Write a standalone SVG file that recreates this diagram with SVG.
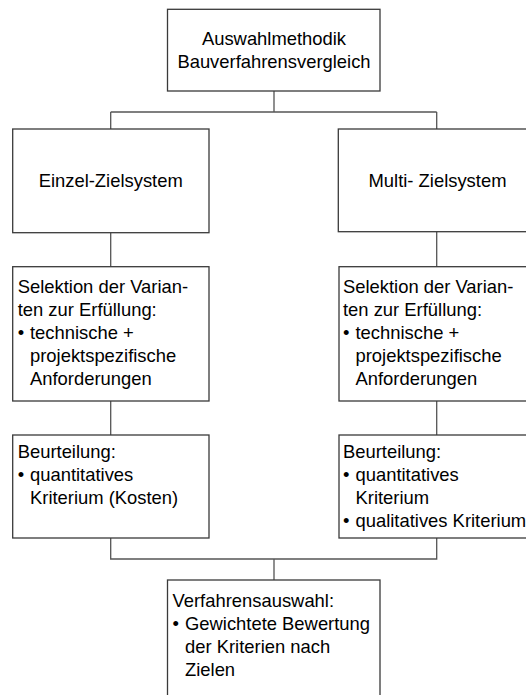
<svg xmlns="http://www.w3.org/2000/svg" width="526" height="695" viewBox="0 0 526 695">
  <style>
    .box { fill: #ffffff; stroke: #3a3a3a; stroke-width: 1.3; }
    .conn { fill: none; stroke: #555555; stroke-width: 1.3; }
    text { font-family: "Liberation Sans", Arial, sans-serif; font-size: 18.4px; fill: #000000; }
    .c { text-anchor: middle; }
  </style>
  <rect width="526" height="695" fill="#ffffff"/>

  <!-- connectors -->
  <g id="connectors">
    <path class="conn" d="M274 91 V112 M110.7 112 H436.7 M110.7 112 V129 M436.7 112 V129"/>
    <path class="conn" d="M110.7 232.7 V266.7 M436.7 231.7 V266.7"/>
    <path class="conn" d="M110.7 401 V435 M436.7 401 V435"/>
    <path class="conn" d="M110.7 538 V559 H436.7 V538 M274 559 V580"/>
  </g>

  <!-- top node -->
  <g id="auswahlmethodik">
    <rect class="box" x="167.5" y="9.3" width="212.5" height="81.7"/>
    <text class="c" x="274" y="44.5">Auswahlmethodik</text>
    <text class="c" x="274" y="67.5">Bauverfahrensvergleich</text>
  </g>

  <!-- left branch -->
  <g id="einzel-zielsystem">
    <rect class="box" x="12.7" y="129" width="196.3" height="103.7"/>
    <text class="c" x="110.7" y="186.7">Einzel-Zielsystem</text>
  </g>
  <g id="selektion-links">
    <rect class="box" x="12.7" y="266.7" width="196.3" height="134.3"/>
    <text x="17.7" y="293">Selektion der Varian-</text>
    <text x="17.7" y="316">ten zur Erfüllung:</text>
    <text x="17.7" y="339">•</text>
    <text x="30" y="339">technische +</text>
    <text x="30" y="362">projektspezifische</text>
    <text x="30" y="385">Anforderungen</text>
  </g>
  <g id="beurteilung-links">
    <rect class="box" x="12.7" y="435" width="196.3" height="103"/>
    <text x="17.7" y="457.5">Beurteilung:</text>
    <text x="17.7" y="480.5">•</text>
    <text x="30" y="480.5">quantitatives</text>
    <text x="30" y="503.5">Kriterium (Kosten)</text>
  </g>

  <!-- right branch -->
  <g id="multi-zielsystem">
    <rect class="box" x="338.3" y="129" width="198" height="102.7"/>
    <text class="c" x="437.5" y="186.7">Multi- Zielsystem</text>
  </g>
  <g id="selektion-rechts">
    <rect class="box" x="339" y="266.7" width="198" height="134.3"/>
    <text x="343" y="293">Selektion der Varian-</text>
    <text x="343" y="316">ten zur Erfüllung:</text>
    <text x="343" y="339">•</text>
    <text x="355.5" y="339">technische +</text>
    <text x="355.5" y="362">projektspezifische</text>
    <text x="355.5" y="385">Anforderungen</text>
  </g>
  <g id="beurteilung-rechts">
    <rect class="box" x="339" y="435" width="198" height="103"/>
    <text x="343" y="457.5">Beurteilung:</text>
    <text x="343" y="480.5">•</text>
    <text x="355.5" y="480.5">quantitatives</text>
    <text x="355.5" y="503.5">Kriterium</text>
    <text x="343" y="526.5">•</text>
    <text x="355.5" y="526.5">qualitatives Kriterium</text>
  </g>

  <!-- bottom node -->
  <g id="verfahrensauswahl">
    <rect class="box" x="167.5" y="580" width="212.5" height="130"/>
    <text x="172.5" y="607">Verfahrensauswahl:</text>
    <text x="172.5" y="630">•</text>
    <text x="185" y="630">Gewichtete Bewertung</text>
    <text x="185" y="653">der Kriterien nach</text>
    <text x="185" y="676">Zielen</text>
  </g>
</svg>
